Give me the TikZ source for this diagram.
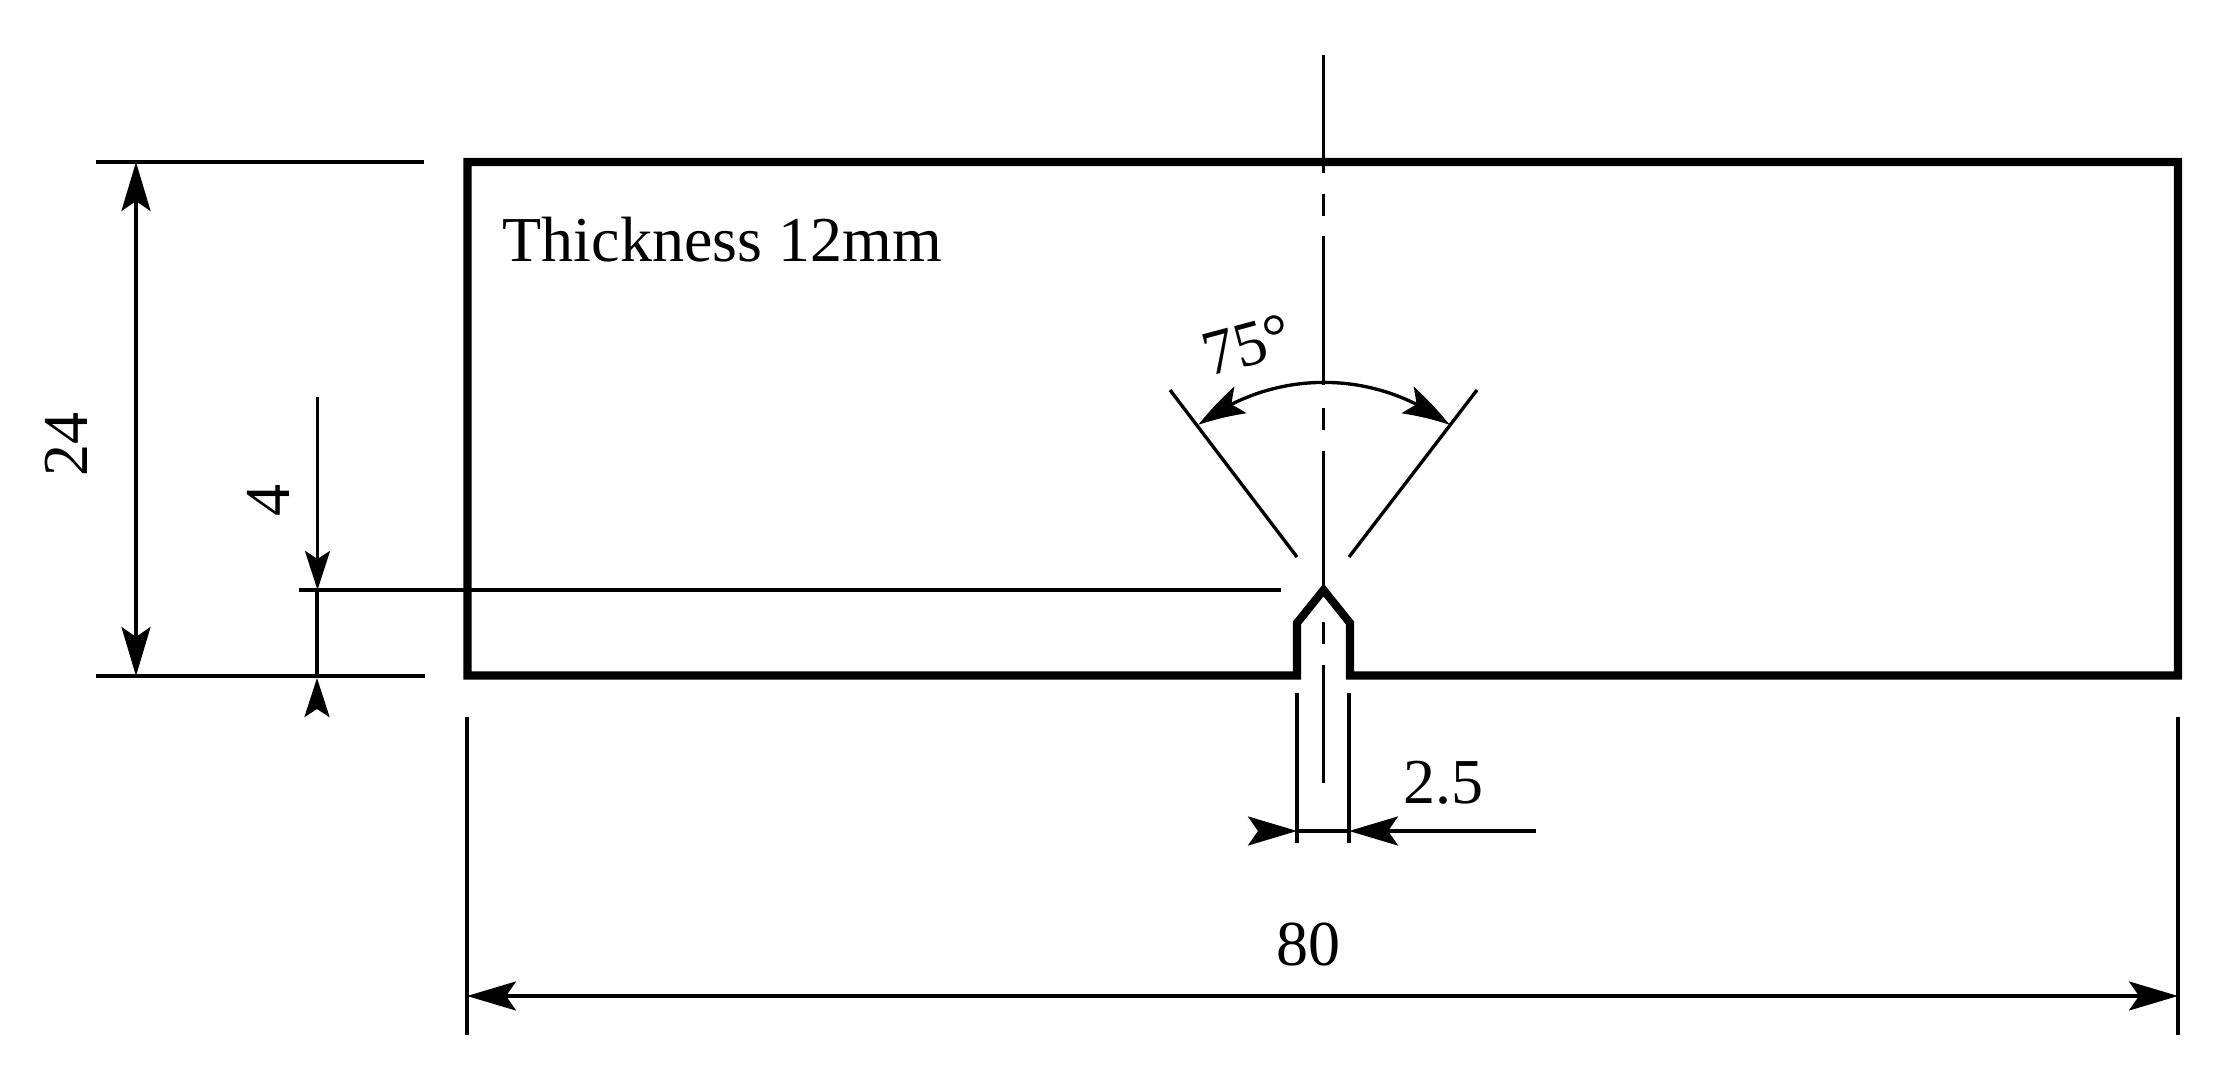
\documentclass[tikz,border=0pt]{standalone}
\usepackage{fontspec}
\setmainfont{Liberation Serif}
\usetikzlibrary{arrows.meta,bending}
\tikzset{
  x=0.01cm,y=-0.01cm,
  thinln/.style={line width=0.95pt,black},
  bold/.style={line width=2.3pt,black,miter limit=10},
  tipbig/.tip={Stealth[length=0.49cm,width=0.29cm,inset=0.10cm]},
  tipmid/.tip={Stealth[length=0.39cm,width=0.25cm,inset=0.08cm]},
  lbl/.style={inner sep=0pt,font=\fontsize{18.2}{22}\selectfont},
}
\begin{document}
\begin{tikzpicture}
\useasboundingbox[fill=white] (0,0) rectangle (2218,1074);
% Body with notch
\coordinate (TL) at (467.5,162);
\coordinate (TR) at (2178,162);
\coordinate (BR) at (2178,675.5);
\coordinate (BL) at (467.5,675.5);
\draw[bold] (TL) -- (TR) -- (BR) -- (1350,675.5) -- (1350,623) -- (1323.5,590) -- (1297,623) -- (1297,675.5) -- (BL) -- cycle;
% Centre line
\draw[thinln] (1323.5,55) -- (1323.5,173);
\draw[thinln] (1323.5,194) -- (1323.5,216);
\draw[thinln] (1323.5,236) -- (1323.5,385);
\draw[thinln] (1323.5,408) -- (1323.5,430);
\draw[thinln] (1323.5,451) -- (1323.5,590);
\draw[thinln] (1323.5,622) -- (1323.5,644);
\draw[thinln] (1323.5,665) -- (1323.5,783);
% Angle
\draw[thinln] (1170,390) -- (1297,557);
\draw[thinln] (1477,390) -- (1349,557);
\draw[thinln,{tipbig[bend]}-{tipbig[bend]}] (1198.5,425) arc[start angle=127.5,end angle=52.5,radius=2.06cm];
\node[lbl,rotate=15] (a75) at (1247,345) {75°};
% 24
\draw[thinln] (96,162) -- (424,162);
\draw[thinln] (96,676) -- (425,676);
\draw[thinln,tipbig-tipbig] (136,162) -- (136,676);
\node[lbl,rotate=90] (d24) at (66,445) {24};
% 4
\draw[thinln] (299,590) -- (1281,590);
\draw[thinln,-tipmid] (317.5,397) -- (317.5,590);
\draw[thinln] (317,590) -- (317,676);
\draw[thinln,-tipmid,shorten <=0.14cm] (317,718) -- (317,678);
\node[lbl,rotate=90] (d4) at (268,501) {4};
% 80
\draw[thinln] (467,717) -- (467,1035);
\draw[thinln] (2178,717) -- (2178,1035);
\draw[thinln,tipbig-tipbig] (467,996) -- (2178,996);
\node[lbl] (d80) at (1308,945) {80};
% 2.5
\draw[thinln] (1297,693) -- (1297,843);
\draw[thinln] (1349,693) -- (1349,843);
\draw[thinln] (1297,831) -- (1349,831);
\draw[thinln,-tipbig] (1536,831) -- (1349,831);
\draw[thinln,-tipbig,shorten <=0.16cm] (1249,831) -- (1297,831);
\node[lbl] (d25) at (1443,783) {2.5};
% Note
\node[lbl,anchor=base west] (note) at (502,262) {Thickness 12mm};
\end{tikzpicture}
\end{document}
